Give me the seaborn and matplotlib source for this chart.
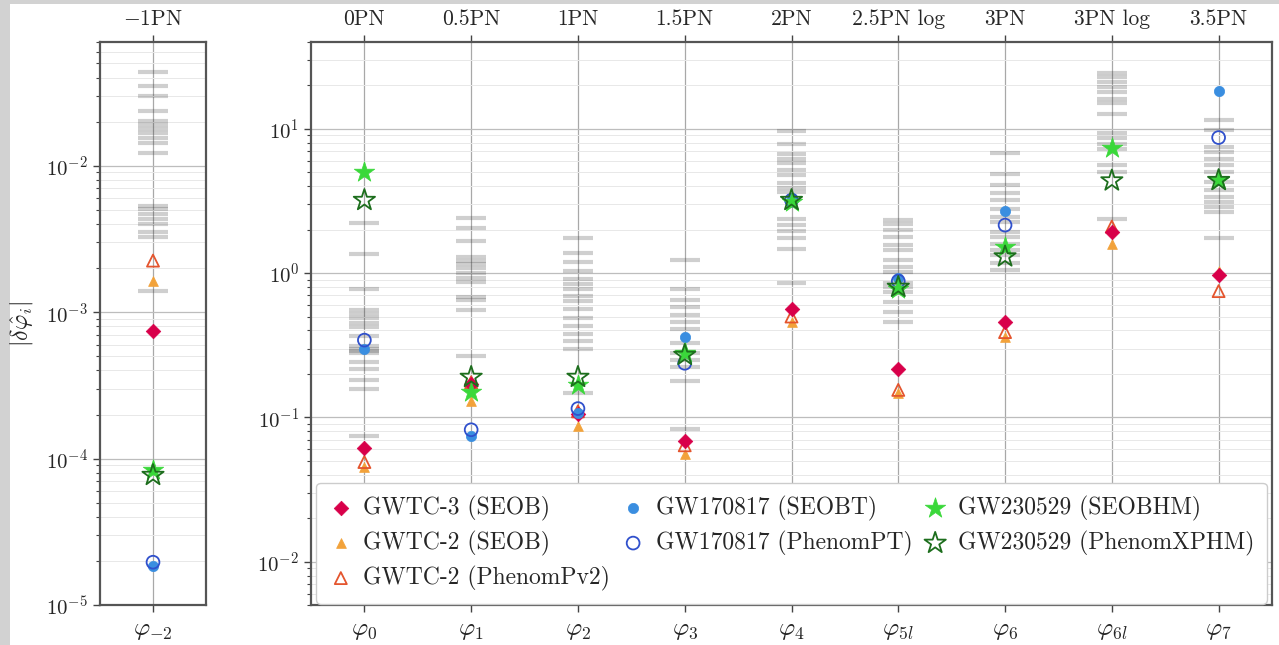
import numpy as np
import pandas as pd
import matplotlib
matplotlib.use("Agg")
import matplotlib.pyplot as plt
import seaborn as sns
from matplotlib.patches import Rectangle

sns.set_theme(style="white")
plt.rcParams['font.family'] = ['cmr10', 'DejaVu Serif']
plt.rcParams['mathtext.fontset'] = 'cm'
plt.rcParams['axes.formatter.use_mathtext'] = True

# ---------------- data ----------------
pn_labels = [r"$-1$PN", "0PN", "0.5PN", "1PN", "1.5PN", "2PN", "2.5PN log", "3PN", "3PN log", "3.5PN"]
phi_labels = [r"$\varphi_{-2}$", r"$\varphi_0$", r"$\varphi_1$", r"$\varphi_2$", r"$\varphi_3$",
              r"$\varphi_4$", r"$\varphi_{5l}$", r"$\varphi_6$", r"$\varphi_{6l}$", r"$\varphi_7$"]

# per-event bounds (grey dashes), one list per coefficient
b_m2 = [0.044, 0.035, 0.030, 0.0236, 0.0201, 0.0191, 0.0179, 0.0168, 0.0155, 0.0143, 0.0123,
        0.00532, 0.00505, 0.00466, 0.0043, 0.00399, 0.0035, 0.00324, 0.0014]
b_0 = [2.23, 1.36, 0.77, 0.554, 0.52, 0.486, 0.454, 0.425, 0.366, 0.31, 0.30, 0.29, 0.28,
       0.243, 0.218, 0.181, 0.158, 0.074]
b_1 = [2.42, 2.06, 1.67, 1.30, 1.22, 1.15, 1.08, 1.0, 0.93, 0.87, 0.685, 0.65, 0.554, 0.267]
b_2 = [1.74, 1.37, 1.2, 1.03, 0.905, 0.835, 0.78, 0.69, 0.64, 0.56, 0.49, 0.43, 0.38, 0.34,
       0.296, 0.147]
b_3 = [1.24, 0.78, 0.65, 0.58, 0.51, 0.46, 0.41, 0.326, 0.278, 0.25, 0.224, 0.18, 0.083]
b_4 = [9.7, 7.8, 6.7, 6.2, 5.8, 5.2, 4.8, 4.2, 3.9, 3.66, 2.39, 2.15, 1.96, 1.74, 1.46, 0.857]
b_5l = [2.35, 2.2, 1.99, 1.79, 1.56, 1.44, 1.23, 1.1, 1.02, 0.86, 0.8, 0.74, 0.63, 0.54, 0.46]
b_6 = [6.8, 4.9, 4.07, 3.6, 3.2, 2.76, 2.46, 2.27, 1.93, 1.78, 1.6, 1.44, 1.33, 1.17, 1.05]
b_6l = [24.2, 22.7, 21.2, 19.5, 18.0, 16.2, 15.0, 12.6, 9.3, 8.6, 7.9, 7.3, 5.6, 5.0, 2.39]
b_7 = [11.6, 9.8, 7.5, 6.9, 6.2, 5.6, 5.0, 4.3, 3.76, 3.38, 3.12, 2.88, 2.66, 1.74]
bounds = [b_m2, b_0, b_1, b_2, b_3, b_4, b_5l, b_6, b_6l, b_7]

nan = np.nan
gwtc3_seob = [7.4e-4, 0.061, 0.17, 0.105, 0.069, 0.56, 0.218, 0.46, 1.93, 0.97]
gwtc2_seob = [1.64e-3, 0.045, 0.13, 0.087, 0.056, 0.46, 0.148, 0.36, 1.6, 1.03]
gwtc2_pv2 = [2.25e-3, 0.049, 0.175, 0.11, 0.064, 0.50, 0.155, 0.39, 2.1, 0.75]
gw17_seobt = [1.85e-5, 0.30, 0.074, 0.107, 0.362, 3.3, 0.92, 2.7, nan, 18.3]
gw17_ppt = [1.96e-5, 0.343, 0.082, 0.115, 0.237, 3.2, 0.88, 2.15, nan, 8.7]
gw23_seobhm = [8.4e-5, 5.0, 0.15, 0.168, 0.278, 3.1, 0.78, 1.52, 7.4, 4.4]
gw23_xphm = [7.7e-5, 3.2, 0.19, 0.19, 0.27, 3.2, 0.80, 1.3, 4.37, 4.4]

series = [
    # label, values, marker, color, filled, size, zorder
    ("GWTC-3 (SEOB)", gwtc3_seob, "D", "#d8004a", True, 55, 5),
    ("GWTC-2 (SEOB)", gwtc2_seob, "^", "#f2a23a", True, 50, 3),
    ("GWTC-2 (PhenomPv2)", gwtc2_pv2, "^", "#e4552e", False, 75, 4),
    ("GW170817 (SEOBT)", gw17_seobt, "o", "#3a8ee0", True, 55, 6),
    ("GW170817 (PhenomPT)", gw17_ppt, "o", "#3050cc", False, 85, 7),
    ("GW230529 (SEOBHM)", gw23_seobhm, "*", "#3ad83a", True, 240, 8),
    ("GW230529 (PhenomXPHM)", gw23_xphm, "*", "#1d6e1d", False, 260, 9),
]

# ---------------- figure ----------------
W, H = 1279, 645
fig = plt.figure(figsize=(W / 100, H / 100), dpi=100)
fig.patch.set_facecolor("#d2d2d2")
fig.patches.append(Rectangle((10 / W, 0), 1, 1 - 4 / H, transform=fig.transFigure,
                             facecolor="white", edgecolor="none", zorder=-10))

ax1 = fig.add_axes([100 / W, 40 / H, 106 / W, 563 / H])
ax2 = fig.add_axes([311 / W, 40 / H, 961 / W, 563 / H])

rows = []
for lab, vals, mk, col, filled, s, z in series:
    for i, v in enumerate(vals):
        rows.append(dict(series=lab, pos=i, value=v))
df = pd.DataFrame(rows)

for ax, idx in ((ax1, [0]), (ax2, list(range(1, 10)))):
    ax.set_facecolor("white")
    ax.set_yscale("log")
    # grey bounds
    for k, i in enumerate(idx):
        xpos = k
        ax.hlines(bounds[i], xpos - 0.14, xpos + 0.14, color="#3a3a3a", alpha=0.24, lw=3.0, zorder=2)
    # markers
    for lab, vals, mk, col, filled, s, z in series:
        d = df[(df.series == lab) & (df.pos.isin(idx))].copy()
        d["x"] = d["pos"] - idx[0]
        d = d.dropna()
        if filled:
            sns.scatterplot(data=d, x="x", y="value", ax=ax, marker=mk, color=col, s=s,
                            edgecolor=col, linewidth=0.5, zorder=z, label=lab)
        else:
            sns.scatterplot(data=d, x="x", y="value", ax=ax, marker=mk, color=col, s=s,
                            facecolor="none", edgecolor=col, linewidth=1.3, zorder=z, label=lab)
    n = len(idx)
    ax.set_xlim(-0.5, n - 0.5)
    ax.set_xticks(range(n))
    ax.set_xticklabels([phi_labels[i] for i in idx], fontsize=18)
    ax.set_xlabel("")
    ax.set_ylabel("")
    sec = ax.secondary_xaxis("top")
    sec.set_xticks(range(n))
    sec.set_xticklabels([pn_labels[i] for i in idx], fontsize=15.5)
    sec.tick_params(direction="out", length=5, width=1, color="#444444", pad=4)
    sec.spines["top"].set_visible(False)
    ax.set_axisbelow(True)
    ax.grid(True, which="major", axis="y", color="#bdbdbd", lw=0.9)
    ax.grid(True, which="minor", axis="y", color="#e8e8e8", lw=0.7)
    ax.grid(True, which="major", axis="x", color="#a8a8a8", lw=0.9)
    for sp in ax.spines.values():
        sp.set_color("#555555")
        sp.set_linewidth(1.6)
    ax.tick_params(axis="y", which="major", direction="out", length=5, width=1,
                   color="#444444", labelsize=15, left=True)
    ax.tick_params(axis="x", which="major", direction="out", length=5, width=1,
                   color="#444444", bottom=True, pad=6)
    ax.tick_params(axis="y", which="minor", direction="out", length=3, width=0.8,
                   color="#444444", left=True)
    if ax.get_legend() is not None:
        ax.get_legend().remove()

ax1.set_ylim(1e-5, 0.07)
ax2.set_ylim(0.005, 40)
ax1.set_ylabel(r"$|\delta\hat{\varphi}_i|$", fontsize=17, labelpad=8)

handles, labels = ax2.get_legend_handles_labels()
leg = ax2.legend(handles, labels, loc="lower left", ncol=3, mode="expand",
                 bbox_to_anchor=(0.004, 0.0, 0.992, 0.2), fontsize=17, frameon=True,
                 framealpha=1, edgecolor="#cccccc", fancybox=True, borderpad=0.55,
                 labelspacing=0.42, handletextpad=0.45, handlelength=1.0, borderaxespad=0.05,
                 columnspacing=0.8, markerscale=1.0)
leg.set_zorder(20)

fig.savefig("out.png", dpi=100, facecolor=fig.get_facecolor())
